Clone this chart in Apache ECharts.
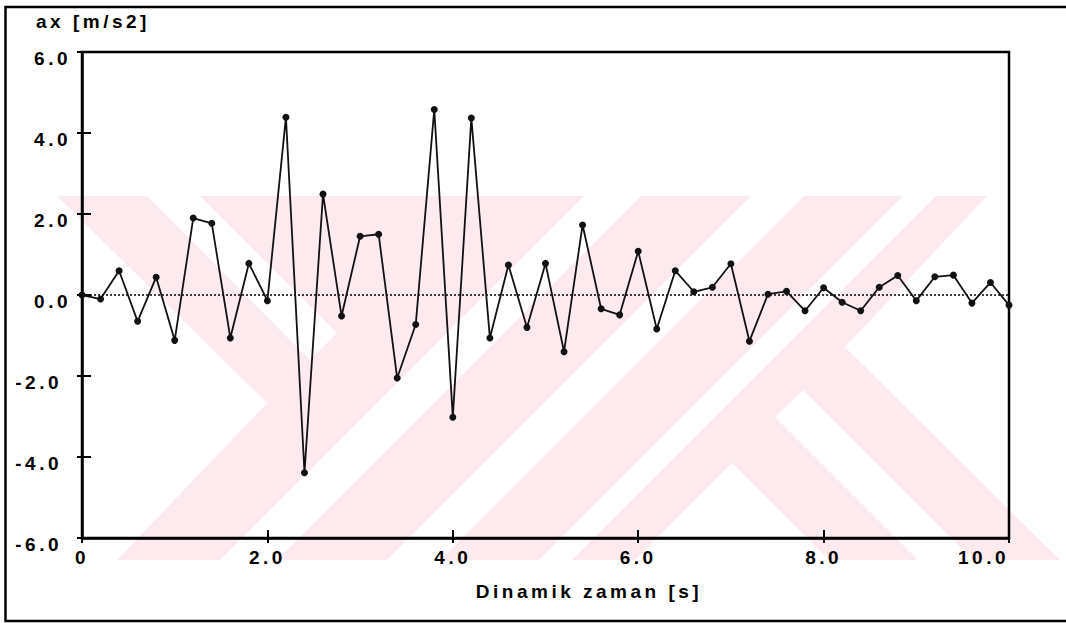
<!DOCTYPE html>
<html>
<head>
<meta charset="utf-8">
<script src="https://cdn.jsdelivr.net/npm/echarts@6/dist/echarts.min.js"></script>
<style>
  html, body { margin: 0; padding: 0; background: #fff; }
  #chart { width: 1066px; height: 623px; }
  #chart text { letter-spacing: 3.5px; }
</style>
</head>
<body>
<div id="chart"></div>
<script>
// ---- data ----
const timeValues = [0.0,0.2,0.4,0.6,0.8,1.0,1.2,1.4,1.6,1.8,2.0,2.2,2.4,2.6,2.8,3.0,3.2,3.4,3.6,3.8,4.0,4.2,4.4,4.6,4.8,5.0,5.2,5.4,5.6,5.8,6.0,6.2,6.4,6.6,6.8,7.0,7.2,7.4,7.6,7.8,8.0,8.2,8.4,8.6,8.8,9.0,9.2,9.4,9.6,9.8,10.0];
const axValues = [0.0,-0.1,0.6,-0.65,0.44,-1.12,1.9,1.77,-1.06,0.78,-0.14,4.39,-4.39,2.49,-0.52,1.45,1.5,-2.05,-0.73,4.58,-3.02,4.37,-1.06,0.74,-0.8,0.78,-1.4,1.73,-0.34,-0.49,1.08,-0.84,0.6,0.08,0.19,0.77,-1.14,0.02,0.09,-0.39,0.18,-0.18,-0.39,0.19,0.48,-0.14,0.45,0.49,-0.2,0.31,-0.25];
const yTicks = [-6, -4, -2, 0, 2, 4, 6];
const xTicks = [0, 2, 4, 6, 8, 10];
const yTitle = 'ax [m/s2]';
const xTitle = 'Dinamik zaman [s]';

const seriesData = timeValues.map((t, i) => [t, axValues[i]]);

// ---- background watermark (decoration) ----
const PINK = '#fdeaee';
function poly(points, fill) {
  return { type: 'polygon', z: -10, silent: true, shape: { points }, style: { fill } };
}
const wm = [
  poly([[57,196],[987,196],[845,347],[1060,560],[117,560],[267,403]], PINK),
  poly([[147,196],[200,196],[337,333],[310,360]], '#ffffff'),
  poly([[220,560],[277,560],[641,196],[584,196]], '#ffffff'),
  poly([[387,560],[440,560],[804,196],[751,196]], '#ffffff'),
  poly([[539,560],[572,560],[936,196],[903,196]], '#ffffff'),
  poly([[803,390],[973,560],[918,560],[775,417]], '#ffffff'),
  poly([[732,463],[829,560],[635,560]], '#ffffff')
];

const chart = echarts.init(document.getElementById('chart'), null, { renderer: 'svg' });
const FONT = '"Liberation Sans", Arial, sans-serif';
const labelFont = { color: '#000', fontFamily: FONT, fontSize: 19, fontWeight: 'bold' };

chart.setOption({
  backgroundColor: '#fff',
  animation: false,
  graphic: [
    ...wm,
    { type: 'rect', z: 100, silent: true, shape: { x: 5.5, y: 7, width: 1075, height: 614 },
      style: { fill: 'none', stroke: '#000', lineWidth: 2.5 } },
    { type: 'text', z: 100, left: 36, top: 12,
      style: { text: yTitle, fill: '#000', font: 'bold 19px ' + FONT } }
  ],
  grid: { left: 82, right: 57, top: 52, bottom: 85, show: true, borderColor: '#000', borderWidth: 2.5, backgroundColor: 'transparent' },
  xAxis: [{
    type: 'value', min: 0, max: 10, interval: 2,
    name: xTitle, nameLocation: 'middle', nameGap: 44,
    nameTextStyle: Object.assign({}, labelFont, { padding: [0, 0, 0, 87] }),
    axisLine: { show: true, onZero: false, lineStyle: { color: '#000', width: 2.5 } },
    axisTick: { show: true, inside: true, length: 8, lineStyle: { color: '#000', width: 2 } },
    axisLabel: Object.assign({}, labelFont, {
      margin: 10, alignMaxLabel: 'right',
      formatter: v => (v === 0 ? '0' : v.toFixed(1))
    }),
    splitLine: { show: false }
  }, {
    type: 'value', min: 0, max: 10, interval: 2, position: 'bottom',
    axisLine: { show: false, onZero: false }, axisLabel: { show: false }, splitLine: { show: false },
    axisTick: { show: true, inside: false, length: 5, lineStyle: { color: '#000', width: 2 } }
  }],
  yAxis: [{
    type: 'value', min: -6, max: 6, interval: 2,
    axisLine: { show: true, onZero: false, lineStyle: { color: '#000', width: 2.5 } },
    axisTick: { show: true, inside: true, length: 9, lineStyle: { color: '#000', width: 2 } },
    axisLabel: {
      margin: 11, verticalAlign: 'top', lineHeight: 13,
      formatter: v => (v < 0 ? '{n|' + v.toFixed(1) + '}' : '{p|' + v.toFixed(1) + '}'),
      rich: {
        p: Object.assign({}, labelFont, { lineHeight: 13 }),
        n: Object.assign({}, labelFont, { lineHeight: 13, padding: [0, 9, 0, 0] })
      }
    },
    splitLine: { show: false }
  }, {
    type: 'value', min: -6, max: 6, interval: 2, position: 'left',
    axisLine: { show: false, onZero: false }, axisLabel: { show: false }, splitLine: { show: false },
    axisTick: { show: true, inside: false, length: 5, lineStyle: { color: '#000', width: 2 } }
  }],
  series: [{
    type: 'line',
    data: seriesData,
    xAxisIndex: 0, yAxisIndex: 0,
    symbol: 'circle', symbolSize: 7,
    itemStyle: { color: '#111' },
    lineStyle: { color: '#111', width: 1.8 },
    z: 5,
    markLine: {
      silent: true, symbol: 'none', label: { show: false },
      lineStyle: { color: '#000', type: [2, 2], width: 1.5 },
      data: [{ yAxis: 0 }]
    }
  }]
});
</script>
</body>
</html>
